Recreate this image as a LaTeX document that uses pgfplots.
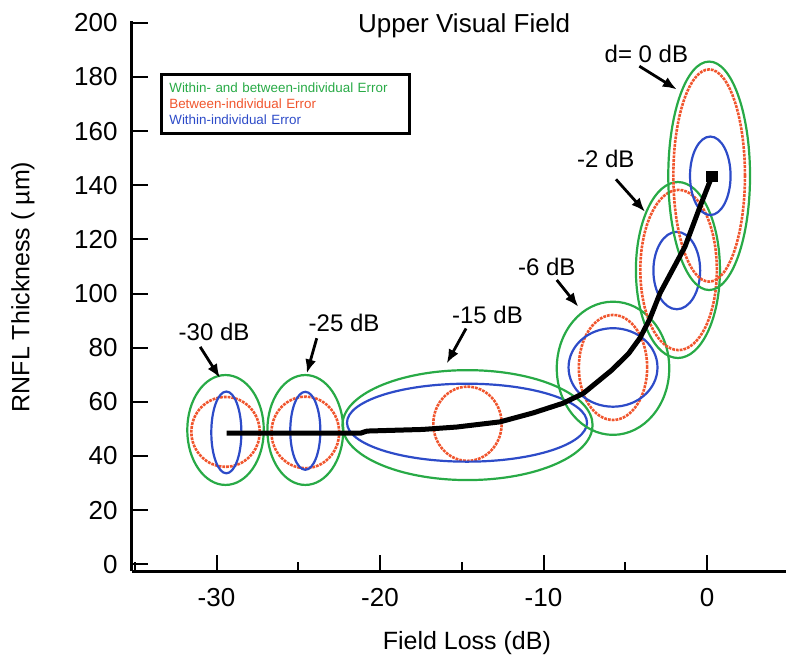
\documentclass[border=0pt]{standalone}
\usepackage{fontspec}
\setmainfont{Liberation Sans}
\usepackage{pgfplots}
\pgfplotsset{compat=1.18}
\usepackage{pgfplotstable}
\usetikzlibrary{arrows.meta}

\definecolor{cG}{RGB}{40,170,70}
\definecolor{cR}{RGB}{240,85,45}
\definecolor{cB}{RGB}{45,75,200}
\tikzset{
  eG/.style={draw=cG, line width=1.1pt},
  eR/.style={draw=cR, line width=1.3pt, dash pattern=on 1.4pt off 0.5pt},
  eB/.style={draw=cB, line width=1.1pt},
  ann/.style={-{Latex[length=7pt,width=5.5pt]}, line width=1.4pt, black},
}

% mean curve
\pgfplotstableread{
x y
-29.38 48.4
-21.2 48.4
-20.8 49.2
-17.4 49.8
-15.3 50.7
-12.66 52.6
-10.64 55.9
-8.8 59.5
-7.57 63.1
-5.83 71.7
-4.8 77.8
-4.1 83.6
-3.5 90.6
-2.87 100.2
-1.35 117.3
-0.43 132.1
0.29 143.2
}\curve

% error ellipses: centre, radii (axis units), style
\pgfplotstableread{
cx cy rx ry st
-29.45 49.6 2.34 20.3 eG
-29.45 48.9 2.09 12.9 eR
-29.40 48.7 0.92 15.1 eB
-24.57 49.6 2.32 20.3 eG
-24.57 48.7 2.07 13.2 eR
-24.57 49.3 0.92 14.4 eB
-14.65 51.4 7.65 20.3 eG
-14.65 51.9 2.09 13.7 eR
-14.68 52.3 7.34 14.4 eB
-5.75 72.4 3.44 24.6 eG
-5.75 72.7 2.09 19.4 eR
-5.75 72.7 2.72 14.5 eB
-1.78 108.7 2.57 32.5 eG
-1.74 108.7 2.34 29.6 eR
-1.85 108.5 1.43 14.3 eB
0.13 143.5 2.50 42.2 eG
0.13 143.6 2.19 39.2 eR
0.20 143.5 1.24 14.5 eB
}\ellipsetable

\begin{document}
\begin{tikzpicture}
\useasboundingbox (-65.85pt,-48.5pt) rectangle (334.2pt,285.55pt);
\begin{axis}[
  at={(0,0)}, anchor=south west,
  scale only axis, width=327.2pt, height=275.2pt,
  xmin=-35.19, xmax=4.83, ymin=-2.5, ymax=200.8,
  axis x line*=bottom, axis y line*=left,
  axis line style={line width=1.5pt, -},
  tick align=inside,
  xtick={-30,-20,-10,0}, minor xtick={-35,-25,-15,-5},
  ytick={0,20,...,200},
  major tick length=8pt, minor tick length=4.5pt,
  tick style={line width=1pt, black},
  tick label style={font=\fontsize{13}{15}\selectfont},
  /pgf/number format/assume math mode=true,
  xticklabel style={yshift=-5pt},
  yticklabel style={xshift=-3.5pt},
  xlabel={Field Loss (dB)},
  ylabel={RNFL Thickness ( µm)},
  label style={font=\fontsize{12.5}{15}\selectfont},
  xlabel style={at={([xshift=4pt,yshift=-36pt]axis description cs:0.5,0)}, anchor=center},
  ylabel style={at={([xshift=-54.4pt]axis description cs:0,0.516)}, anchor=center},
  clip=false,
]
\pgfplotsinvokeforeach{0,...,17}{%
  \pgfplotstablegetelem{#1}{cx}\of\ellipsetable\let\ecx\pgfplotsretval
  \pgfplotstablegetelem{#1}{cy}\of\ellipsetable\let\ecy\pgfplotsretval
  \pgfplotstablegetelem{#1}{rx}\of\ellipsetable\let\erx\pgfplotsretval
  \pgfplotstablegetelem{#1}{ry}\of\ellipsetable\let\ery\pgfplotsretval
  \pgfplotstablegetelem{#1}{st}\of\ellipsetable\let\est\pgfplotsretval
  \edef\doit{\noexpand\draw[\est] (axis cs:\ecx,\ecy) ellipse [x radius=\erx, y radius=\ery];}%
  \doit
}
\addplot[black, line width=2.5pt, no marks, line join=round] table[x=x,y=y] {\curve};
\addplot[black, only marks, mark=square*, mark size=2.6pt, mark indices={17}] table[x=x,y=y] {\curve};

\node[font=\fontsize{13}{15}\selectfont] at (axis cs:-14.86,198.8) {Upper Visual Field};

\node[draw=black, line width=1.4pt, anchor=north west, minimum width=124pt, minimum height=29.2pt,
      inner xsep=4pt, inner ysep=0pt, text width=116pt, align=left,
      font=\fontsize{6.7}{8}\selectfont] at (axis cs:-33.46,181.3)
  {\textcolor{cG}{Within- and between-individual Error}\\
   \textcolor{cR}{Between-individual Error}\\
   \textcolor{cB}{Within-individual Error}};

\begin{scope}[every node/.style={font=\fontsize{12}{14}\selectfont}]
\node at (axis cs:-30.15,85.9) {-30 dB};
\draw[ann] (axis cs:-31.0,80.3) -- (axis cs:-29.79,68.8);
\node at (axis cs:-22.2,89.0) {-25 dB};
\draw[ann] (axis cs:-23.87,83.5) -- (axis cs:-24.48,70.5);
\node at (axis cs:-13.43,92.1) {-15 dB};
\draw[ann] (axis cs:-14.74,87.1) -- (axis cs:-15.92,74.2);
\node at (axis cs:-9.8,109.9) {-6 dB};
\draw[ann] (axis cs:-9.19,105) -- (axis cs:-7.87,95.1);
\node at (axis cs:-6.19,149.9) {-2 dB};
\draw[ann] (axis cs:-5.57,142.2) -- (axis cs:-3.79,130.2);
\node at (axis cs:-3.71,188.7) {d= 0 dB};
\draw[ann] (axis cs:-4.14,184.0) -- (axis cs:-1.85,175.4);
\end{scope}
\end{axis}
\end{tikzpicture}
\end{document}
